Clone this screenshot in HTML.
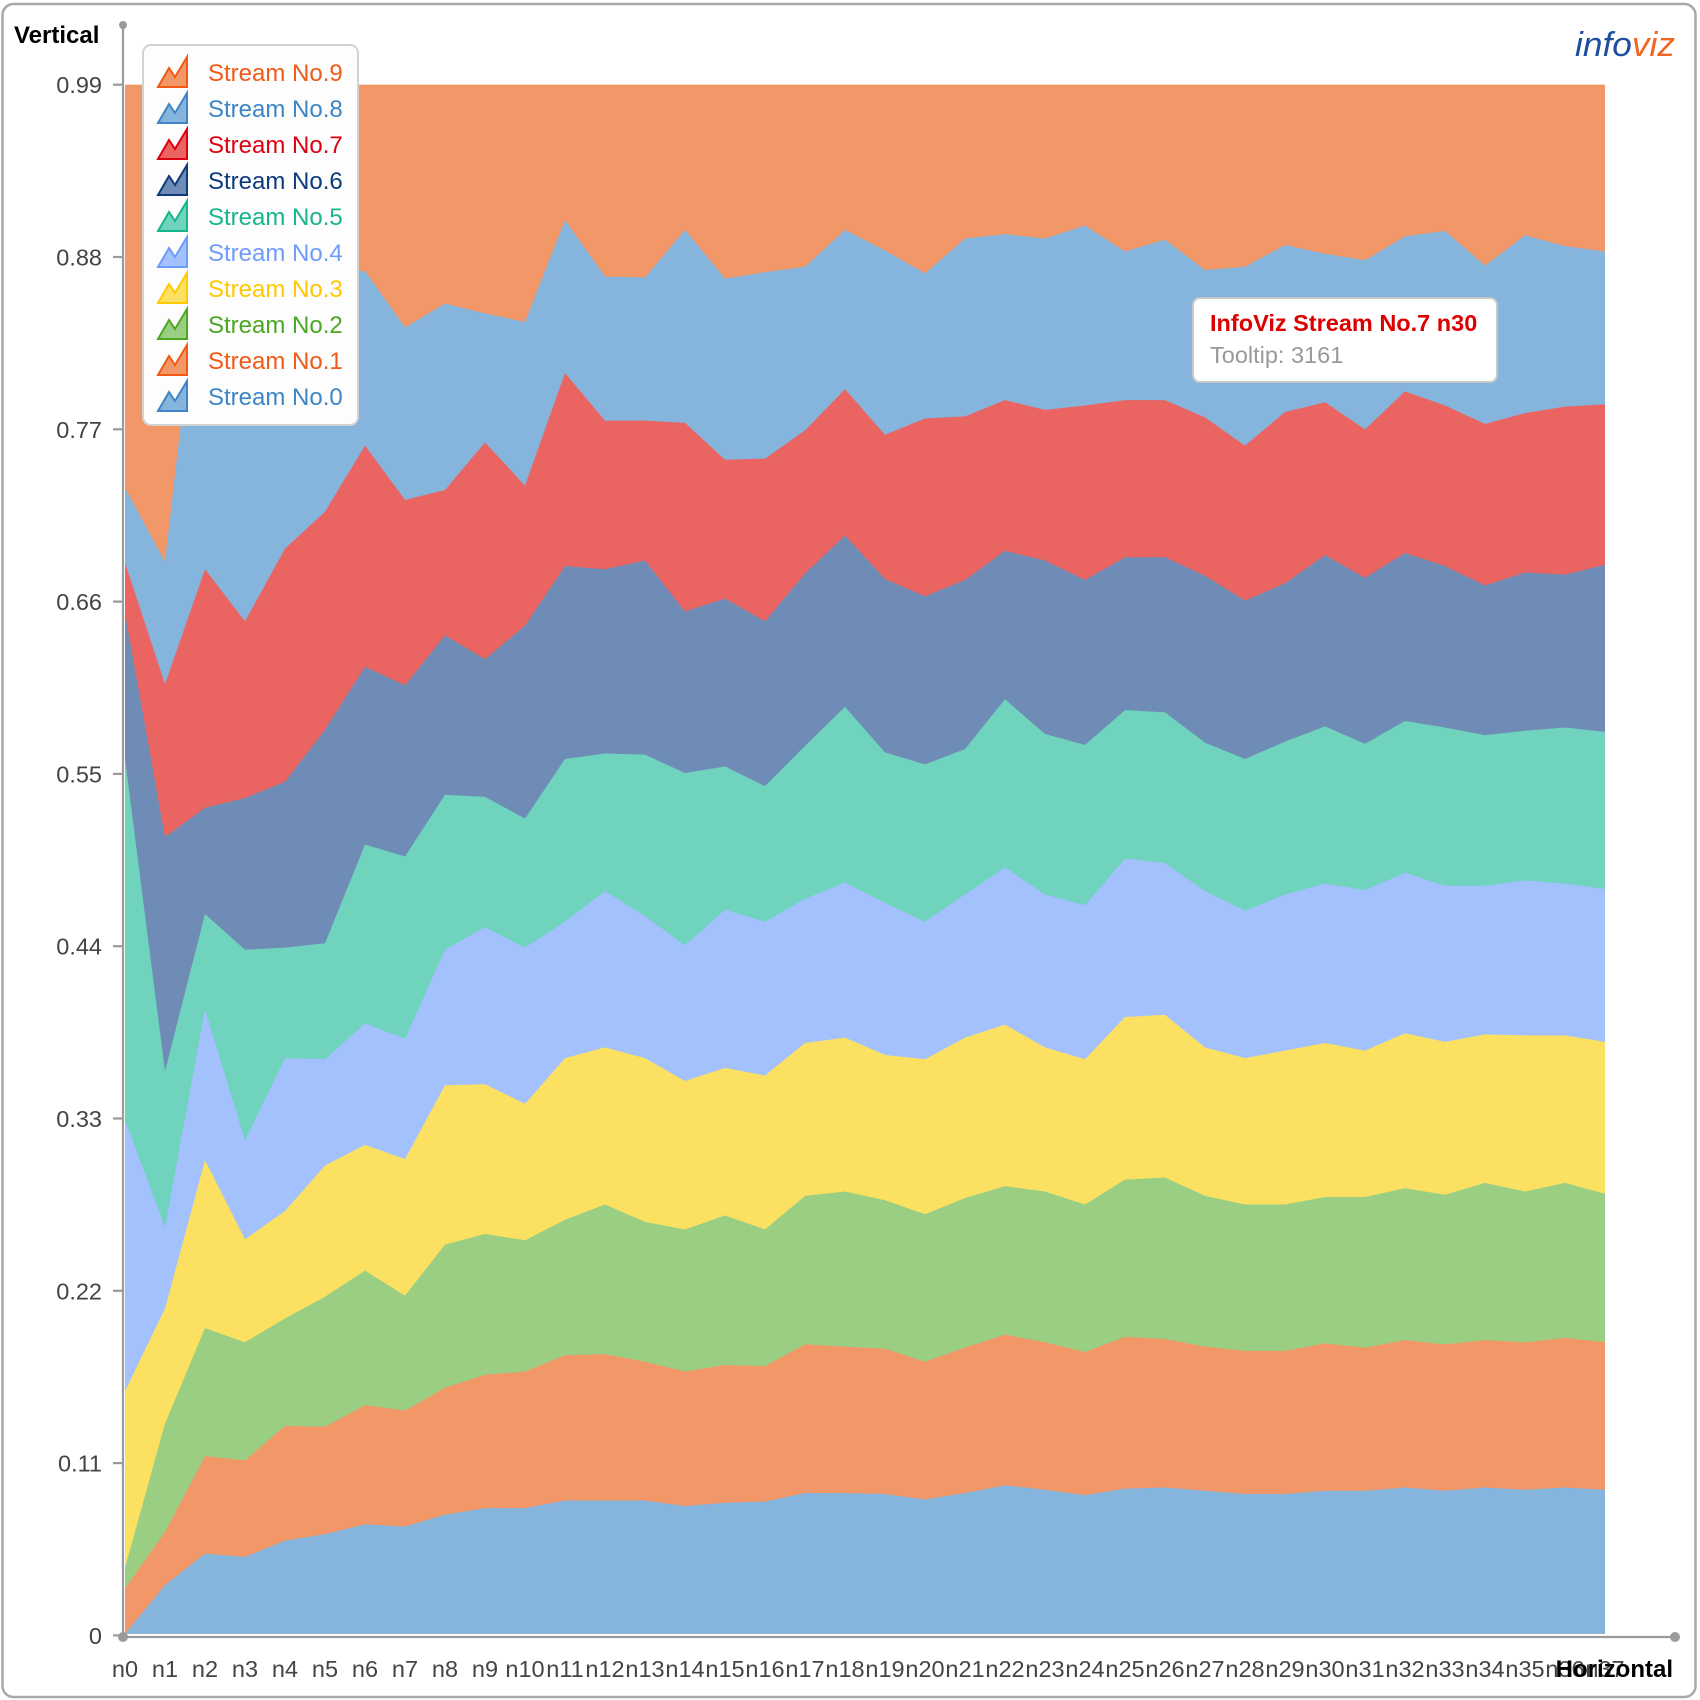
<!DOCTYPE html>
<html>
<head>
<meta charset="utf-8">
<style>
  html, body { margin:0; padding:0; background:#ffffff; }
  svg { display:block; }
  text { font-family: "Liberation Sans", Arial, sans-serif; }
</style>
</head>
<body>
<svg width="1700" height="1700" viewBox="0 0 1700 1700" xmlns="http://www.w3.org/2000/svg">
  <rect x="0" y="0" width="1700" height="1700" fill="#ffffff"/>
  <!-- outer frame -->
  <rect x="2.5" y="4" width="1693" height="1693" rx="11" ry="11" fill="none" stroke="#a9a9a9" stroke-width="2.5"/>

  <!-- stacked streams (display-y scaled) -->
  <g transform="scale(1,1.0842)">
    <!-- Stream 9 -->
    <polygon fill="#f29868" points="125,78 1605,78 1605,1507 125,1507"/>
    <!-- Stream 8 -->
    <polygon fill="#85b4dd" points="125,450 165,518 205,196 245,230 285,240 325,250 365,250 405,302 445,280 485,289 525,297 565,203 605,255 645,256 685,212 725,257 765,251 805,246 845,212 885,231 925,252 965,220 1005,216 1045,220 1085,208 1125,232 1165,221 1205,249 1245,246 1285,226 1325,234 1365,240 1405,218 1445,213 1485,245 1525,217 1565,227 1605,232 1605,1507 125,1507"/>
    <!-- Stream 7 -->
    <polygon fill="#ea6562" points="125,519 165,631 205,525 245,573 285,506 325,472 365,411 405,461 445,452 485,408 525,448 565,344 605,388 645,388 685,390 725,424 765,423 805,397 845,359 885,401 925,386 965,384 1005,369 1045,378 1085,374 1125,369 1165,369 1205,385 1245,411 1285,380 1325,371 1365,396 1405,361 1445,374 1485,391 1525,381 1565,375 1605,373 1605,1507 125,1507"/>
    <!-- Stream 6 -->
    <polygon fill="#6e8cb6" points="125,566 165,772 205,745 245,736 285,721 325,673 365,615 405,632 445,586 485,608 525,577 565,522 605,525 645,517 685,564 725,552 765,573 805,529 845,494 885,534 925,550 965,535 1005,508 1045,517 1085,535 1125,514 1165,514 1205,531 1245,554 1285,538 1325,512 1365,533 1405,510 1445,522 1485,540 1525,528 1565,530 1605,521 1605,1507 125,1507"/>
    <!-- Stream 5 -->
    <polygon fill="#6fd3bd" points="125,700 165,988 205,843 245,876 285,874 325,870 365,779 405,790 445,733 485,735 525,755 565,700 605,695 645,696 685,713 725,707 765,725 805,688 845,652 885,694 925,705 965,691 1005,645 1045,677 1085,687 1125,655 1165,657 1205,685 1245,700 1285,684 1325,670 1365,686 1405,665 1445,671 1485,678 1525,674 1565,671 1605,675 1605,1507 125,1507"/>
    <!-- Stream 4 -->
    <polygon fill="#a2c1fd" points="125,1033 165,1132 205,931 245,1052 285,976 325,977 365,944 405,958 445,876 485,855 525,874 565,850 605,822 645,845 685,872 725,839 765,850 805,829 845,814 885,833 925,850 965,825 1005,800 1045,825 1085,835 1125,792 1165,796 1205,822 1245,840 1285,825 1325,815 1365,821 1405,805 1445,817 1485,817 1525,812 1565,815 1605,820 1605,1507 125,1507"/>
    <!-- Stream 3 -->
    <polygon fill="#fce062" points="125,1283 165,1207 205,1070 245,1143 285,1117 325,1075 365,1056 405,1069 445,1001 485,1000 525,1018 565,976 605,966 645,976 685,997 725,985 765,992 805,962 845,957 885,973 925,977 965,957 1005,945 1045,966 1085,977 1125,938 1165,936 1205,966 1245,976 1285,969 1325,962 1365,969 1405,953 1445,961 1485,954 1525,955 1565,955 1605,961 1605,1507 125,1507"/>
    <!-- Stream 2 -->
    <polygon fill="#9acf83" points="125,1446 165,1313 205,1225 245,1238 285,1216 325,1196 365,1172 405,1195 445,1148 485,1138 525,1144 565,1125 605,1111 645,1127 685,1134 725,1121 765,1134 805,1103 845,1099 885,1107 925,1120 965,1105 1005,1094 1045,1099 1085,1111 1125,1088 1165,1086 1205,1103 1245,1111 1285,1111 1325,1104 1365,1104 1405,1096 1445,1102 1485,1091 1525,1099 1565,1091 1605,1101 1605,1507 125,1507"/>
    <!-- Stream 1 -->
    <polygon fill="#f29868" points="125,1465 165,1413 205,1343 245,1347 285,1315 325,1316 365,1296 405,1301 445,1280 485,1268 525,1265 565,1250 605,1249 645,1256 685,1265 725,1259 765,1260 805,1240 845,1242 885,1244 925,1256 965,1243 1005,1231 1045,1238 1085,1247 1125,1233 1165,1235 1205,1242 1245,1246 1285,1246 1325,1239 1365,1243 1405,1236 1445,1240 1485,1236 1525,1238 1565,1234 1605,1238 1605,1507 125,1507"/>
    <!-- Stream 0 -->
    <polygon fill="#85b4dd" points="125,1507 165,1462 205,1433 245,1436 285,1421 325,1415 365,1406 405,1408 445,1397 485,1391 525,1391 565,1384 605,1384 645,1384 685,1389 725,1386 765,1385 805,1377 845,1377 885,1378 925,1383 965,1377 1005,1370 1045,1374 1085,1379 1125,1373 1165,1372 1205,1375 1245,1378 1285,1378 1325,1375 1365,1375 1405,1372 1445,1375 1485,1372 1525,1374 1565,1372 1605,1374 1605,1507 125,1507"/>
  </g>

  <!-- axes -->
  <g stroke="#9a9a9a" stroke-width="2.2" fill="none">
    <line x1="123" y1="25" x2="123" y2="1637"/>
    <line x1="123" y1="1637" x2="1675" y2="1637"/>
    <line x1="113" y1="84.7" x2="123" y2="84.7"/>
    <line x1="113" y1="257" x2="123" y2="257"/>
    <line x1="113" y1="429.3" x2="123" y2="429.3"/>
    <line x1="113" y1="601.6" x2="123" y2="601.6"/>
    <line x1="113" y1="773.9" x2="123" y2="773.9"/>
    <line x1="113" y1="946.2" x2="123" y2="946.2"/>
    <line x1="113" y1="1118.5" x2="123" y2="1118.5"/>
    <line x1="113" y1="1290.8" x2="123" y2="1290.8"/>
    <line x1="113" y1="1463.1" x2="123" y2="1463.1"/>
    <line x1="113" y1="1635.4" x2="123" y2="1635.4"/>
  </g>
  <circle cx="123" cy="25" r="4" fill="#9a9a9a"/>
  <circle cx="123" cy="1637" r="5" fill="#9a9a9a"/>
  <circle cx="1675" cy="1637" r="5" fill="#9a9a9a"/>

  <!-- y labels -->
  <g font-size="23.5" fill="#444444" text-anchor="end">
    <text x="102" y="93">0.99</text>
    <text x="102" y="265.5">0.88</text>
    <text x="102" y="437.8">0.77</text>
    <text x="102" y="610">0.66</text>
    <text x="102" y="782.4">0.55</text>
    <text x="102" y="954.7">0.44</text>
    <text x="102" y="1127">0.33</text>
    <text x="102" y="1299.3">0.22</text>
    <text x="102" y="1471.6">0.11</text>
    <text x="102" y="1643.9">0</text>
  </g>

  <!-- x labels -->
  <g font-size="23.5" fill="#444444" text-anchor="middle">
    <text x="125" y="1677">n0</text>
    <text x="165" y="1677">n1</text>
    <text x="205" y="1677">n2</text>
    <text x="245" y="1677">n3</text>
    <text x="285" y="1677">n4</text>
    <text x="325" y="1677">n5</text>
    <text x="365" y="1677">n6</text>
    <text x="405" y="1677">n7</text>
    <text x="445" y="1677">n8</text>
    <text x="485" y="1677">n9</text>
    <text x="525" y="1677">n10</text>
    <text x="565" y="1677">n11</text>
    <text x="605" y="1677">n12</text>
    <text x="645" y="1677">n13</text>
    <text x="685" y="1677">n14</text>
    <text x="725" y="1677">n15</text>
    <text x="765" y="1677">n16</text>
    <text x="805" y="1677">n17</text>
    <text x="845" y="1677">n18</text>
    <text x="885" y="1677">n19</text>
    <text x="925" y="1677">n20</text>
    <text x="965" y="1677">n21</text>
    <text x="1005" y="1677">n22</text>
    <text x="1045" y="1677">n23</text>
    <text x="1085" y="1677">n24</text>
    <text x="1125" y="1677">n25</text>
    <text x="1165" y="1677">n26</text>
    <text x="1205" y="1677">n27</text>
    <text x="1245" y="1677">n28</text>
    <text x="1285" y="1677">n29</text>
    <text x="1325" y="1677">n30</text>
    <text x="1365" y="1677">n31</text>
    <text x="1405" y="1677">n32</text>
    <text x="1445" y="1677">n33</text>
    <text x="1485" y="1677">n34</text>
    <text x="1525" y="1677">n35</text>
    <text x="1565" y="1677">n36</text>
    <text x="1605" y="1677">n37</text>
  </g>

  <!-- axis titles -->
  <text x="14" y="43" font-size="24" font-weight="bold" fill="#000000">Vertical</text>
  <text x="1673" y="1677" font-size="24" font-weight="bold" fill="#000000" text-anchor="end">Horizontal</text>

  <!-- logo -->
  <text x="1575" y="56" font-size="34" font-style="italic" font-family="'DejaVu Sans', 'Liberation Sans', sans-serif" textLength="100" lengthAdjust="spacingAndGlyphs"><tspan fill="#1d4f9e">info</tspan><tspan fill="#f26522">viz</tspan></text>

  <!-- legend -->
  <rect x="143" y="45" width="215" height="380" rx="8" ry="8" fill="#fdfdfd" stroke="#d2d2d2" stroke-width="2"/>
  <g stroke-width="2" stroke-linejoin="miter">
    <polygon transform="translate(158,56)" points="0,31 11,12 17,21 29,1 29,31" fill="#f29868" stroke="#f05a14"/>
    <polygon transform="translate(158,92)" points="0,31 11,12 17,21 29,1 29,31" fill="#85b4dd" stroke="#3d85c6"/>
    <polygon transform="translate(158,128)" points="0,31 11,12 17,21 29,1 29,31" fill="#ea6562" stroke="#dd0010"/>
    <polygon transform="translate(158,164)" points="0,31 11,12 17,21 29,1 29,31" fill="#6e8cb6" stroke="#0d3b7e"/>
    <polygon transform="translate(158,200)" points="0,31 11,12 17,21 29,1 29,31" fill="#6fd3bd" stroke="#16b58c"/>
    <polygon transform="translate(158,236)" points="0,31 11,12 17,21 29,1 29,31" fill="#a2c1fd" stroke="#6e9cfa"/>
    <polygon transform="translate(158,272)" points="0,31 11,12 17,21 29,1 29,31" fill="#fce062" stroke="#ffc800"/>
    <polygon transform="translate(158,308)" points="0,31 11,12 17,21 29,1 29,31" fill="#9acf83" stroke="#4aa823"/>
    <polygon transform="translate(158,344)" points="0,31 11,12 17,21 29,1 29,31" fill="#f29868" stroke="#f05a14"/>
    <polygon transform="translate(158,380)" points="0,31 11,12 17,21 29,1 29,31" fill="#85b4dd" stroke="#3d85c6"/>
  </g>
  <g font-size="24">
    <text x="208" y="81" fill="#f05a14">Stream No.9</text>
    <text x="208" y="117" fill="#3d85c6">Stream No.8</text>
    <text x="208" y="153" fill="#dd0010">Stream No.7</text>
    <text x="208" y="189" fill="#0d3b7e">Stream No.6</text>
    <text x="208" y="225" fill="#16b58c">Stream No.5</text>
    <text x="208" y="261" fill="#6e9cfa">Stream No.4</text>
    <text x="208" y="297" fill="#ffc800">Stream No.3</text>
    <text x="208" y="333" fill="#4aa823">Stream No.2</text>
    <text x="208" y="369" fill="#f05a14">Stream No.1</text>
    <text x="208" y="405" fill="#3d85c6">Stream No.0</text>
  </g>

  <!-- tooltip -->
  <rect x="1193" y="298" width="304" height="84" rx="7" ry="7" fill="#ffffff" stroke="#c8c8c8" stroke-width="2"/>
  <text x="1210" y="331" font-size="23.5" font-weight="bold" fill="#dd0000">InfoViz Stream No.7 n30</text>
  <text x="1210" y="363" font-size="23.5" fill="#999999">Tooltip: 3161</text>
</svg>
</body>
</html>
